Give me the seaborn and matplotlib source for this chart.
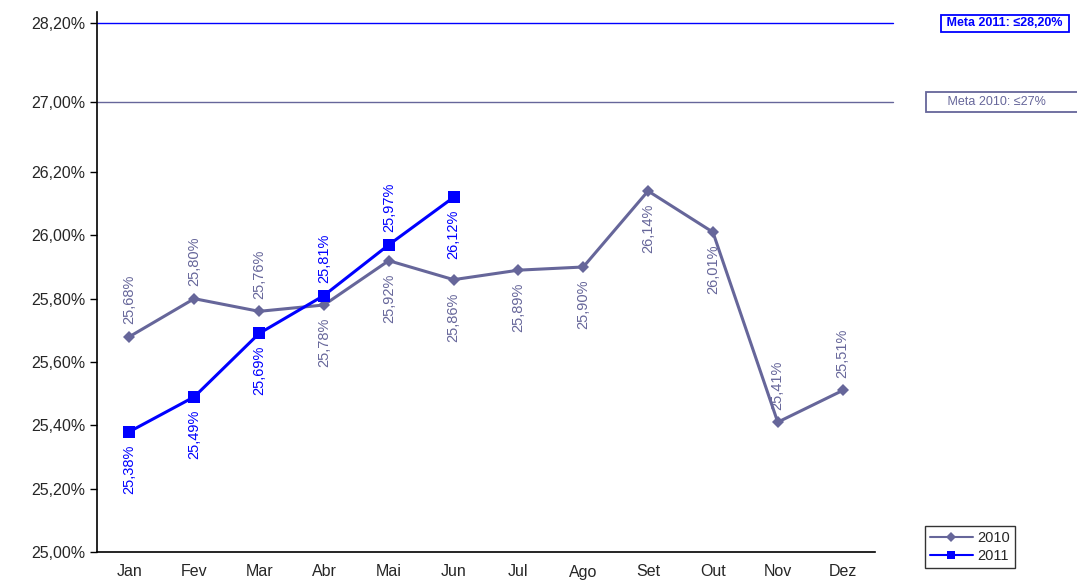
import numpy as np
import pandas as pd
import matplotlib
matplotlib.use('Agg')
import matplotlib.pyplot as plt
import seaborn as sns
from matplotlib.lines import Line2D

# dados
meses = ['Jan', 'Fev', 'Mar', 'Abr', 'Mai', 'Jun', 'Jul', 'Ago', 'Set', 'Out', 'Nov', 'Dez']
valores_2010 = [25.68, 25.80, 25.76, 25.78, 25.92, 25.86, 25.89, 25.90, 26.14, 26.01, 25.41, 25.51]
valores_2011 = [25.38, 25.49, 25.69, 25.81, 25.97, 26.12]
meta_2010 = 27.00
meta_2011 = 28.20
yticks = [25.00, 25.20, 25.40, 25.60, 25.80, 26.00, 26.20, 27.00, 28.20]

# posição dos rótulos: +1 acima do ponto, -1 abaixo
lado_2010 = [1, 1, 1, -1, -1, -1, -1, -1, -1, -1, 1, 1]
lado_2011 = [-1, -1, -1, 1, 1, -1]

cor_2010 = '#66669a'
cor_2011 = '#0000ff'

df = pd.DataFrame({
    'x': list(range(12)) + list(range(6)),
    'valor': valores_2010 + valores_2011,
    'Ano': ['2010'] * 12 + ['2011'] * 6,
})

sns.set_style('white')
plt.rcParams['font.family'] = ['Liberation Sans', 'DejaVu Sans']

# eixo y quebrado: escala linear por partes
dados_ref = [25.0, 26.2, 27.0, 28.2, 28.4]
tela_ref = [0.0, 380.0, 450.0, 529.0, 546.6]


def fwd(v):
    return np.interp(v, dados_ref, tela_ref)


def inv(v):
    return np.interp(v, tela_ref, dados_ref)


fig = plt.figure(figsize=(10.77, 5.82), dpi=100)
ax = fig.add_axes([97 / 1077, 30 / 582, (875 - 97) / 1077, (552 - 12) / 582])
ax.set_yscale('function', functions=(fwd, inv))

sns.lineplot(data=df, x='x', y='valor', hue='Ano', style='Ano',
             palette={'2010': cor_2010, '2011': cor_2011},
             markers={'2010': 'D', '2011': 's'}, dashes=False,
             linewidth=2.2, markeredgewidth=0, ax=ax, legend=False)
for line in ax.lines:
    if line.get_marker() == 's':
        line.set_markersize(8)
    else:
        line.set_markersize(6)

ax.set_xlim(-0.5, 11.5)
ax.set_ylim(25.0, inv(540.0))

# linhas de meta
ax.axhline(meta_2011, xmin=0, xmax=(893 - 97) / (875 - 97), color=cor_2011, lw=1, clip_on=False)
ax.axhline(meta_2010, xmin=0, xmax=(893 - 97) / (875 - 97), color=cor_2010, lw=1, clip_on=False)

fig.text(1066 / 1077, 1 - 23 / 582, ' Meta 2011: ≤28,20% ', ha='right', va='center', fontsize=9,
         color=cor_2011, fontweight='bold',
         bbox=dict(boxstyle='square,pad=0.2', fc='white', ec=cor_2011, lw=1.3))
fig.text(1074 / 1077, 1 - 102 / 582, '     Meta 2010: ≤27%        ', ha='right', va='center',
         fontsize=9, color=cor_2010,
         bbox=dict(boxstyle='square,pad=0.3', fc='white', ec=cor_2010, lw=1.3))


def fmt(v):
    return f'{v:.2f}%'.replace('.', ',')


for i, (v, s) in enumerate(zip(valores_2010, lado_2010)):
    ax.annotate(fmt(v), (i, v), xytext=(0, 9 * s), textcoords='offset points',
                rotation=90, ha='center', va='bottom' if s > 0 else 'top',
                fontsize=10.5, color=cor_2010)
for i, (v, s) in enumerate(zip(valores_2011, lado_2011)):
    ax.annotate(fmt(v), (i, v), xytext=(0, 9 * s), textcoords='offset points',
                rotation=90, ha='center', va='bottom' if s > 0 else 'top',
                fontsize=10.5, color=cor_2011)

# eixos
ax.set_yticks(yticks)
ax.set_yticklabels([fmt(t) for t in yticks], fontsize=11.5)
ax.set_xticks(range(12))
ax.set_xticklabels(meses, fontsize=11.5)
ax.set_xticks(np.arange(-0.5, 12, 1), minor=True)
ax.tick_params(axis='x', which='major', length=0, pad=9)
ax.tick_params(axis='x', which='minor', length=5, width=1, direction='out', color='black')
ax.tick_params(axis='y', which='major', length=5, width=1, direction='out', color='black', left=True)
ax.tick_params(axis='y', which='minor', length=0)
ax.set_xlabel('')
ax.set_ylabel('')
for side in ['top', 'right']:
    ax.spines[side].set_visible(False)
for side in ['left', 'bottom']:
    ax.spines[side].set_color('black')
    ax.spines[side].set_linewidth(1.2)

# legenda
h = [Line2D([], [], color=cor_2010, marker='D', markersize=5, lw=1.5, markeredgewidth=0),
     Line2D([], [], color=cor_2011, marker='s', markersize=6, lw=1.5, markeredgewidth=0)]
leg = fig.legend(h, ['2010', '2011'], loc='center', bbox_to_anchor=(970 / 1077, 1 - 547 / 582),
                 fontsize=10.5, frameon=True, fancybox=False, edgecolor='black',
                 handlelength=3, borderpad=0.3, labelspacing=0.3, handletextpad=0.3)
leg.get_frame().set_linewidth(1)

fig.savefig('out.png', dpi=100)
